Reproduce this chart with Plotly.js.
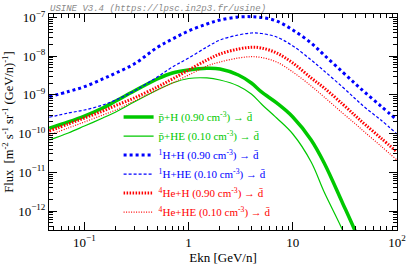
<!DOCTYPE html>
<html><head><meta charset="utf-8">
<script src="https://cdn.plot.ly/plotly-3.0.1.min.js"></script>
<style>html,body{margin:0;padding:0;background:#fff}#c{width:407px;height:265px}</style>
</head><body><div id="c"></div>
<script>
const ekn = [0.046,0.07,0.1,0.15,0.2,0.3,0.5,0.7,1,1.5,2,3,4,5,7,10,15,20,30,40,50,70,100];
const pbarH  = [1.37e-10,2.00e-10,2.85e-10,4.58e-10,6.95e-10,1.26e-9,2.58e-9,3.68e-9,4.40e-9,4.86e-9,4.67e-9,3.27e-9,2.03e-9,1.19e-9,6.18e-10,2.69e-10,6.84e-11,1.74e-11,1.62e-12,2.88e-13,6.46e-14];
const pbarHE = [6.84e-11,1.04e-10,1.57e-10,2.53e-10,3.61e-10,6.56e-10,1.34e-9,2.03e-9,2.65e-9,2.74e-9,2.43e-9,1.70e-9,1.05e-9,5.82e-10,2.53e-10,9.77e-11,1.85e-11,3.10e-12,3.23e-13,4.81e-14];
const pH     = [8.97e-10,1.22e-9,1.63e-9,2.58e-9,3.68e-9,6.29e-9,1.68e-8,2.78e-8,4.48e-8,6.80e-8,8.61e-8,1.03e-7,1.05e-7,1.00e-7,8.12e-8,4.76e-8,2.19e-8,1.07e-8,3.91e-9,1.91e-9,1.12e-9,5.16e-10,2.25e-10];
const pHE    = [2.64e-10,3.40e-10,4.07e-10,5.48e-10,7.38e-10,1.26e-9,2.90e-9,5.26e-9,8.98e-9,1.73e-8,2.62e-8,3.53e-8,3.97e-8,3.86e-8,3.13e-8,1.84e-8,7.98e-9,4.15e-9,1.60e-9,7.83e-10,4.58e-10,2.25e-10,9.77e-11];
const heH    = [1.17e-10,1.77e-10,2.53e-10,3.84e-10,5.32e-10,8.32e-10,1.60e-9,2.58e-9,4.40e-9,7.98e-9,1.14e-8,1.53e-8,1.70e-8,1.63e-8,1.21e-8,6.67e-9,2.74e-9,1.51e-9,5.82e-10,2.85e-10,1.67e-10,7.69e-11,3.35e-11];
const heHE   = [9.20e-11,1.40e-10,2.00e-10,3.03e-10,4.07e-10,6.95e-10,1.34e-9,2.03e-9,3.27e-9,5.58e-9,7.08e-9,8.98e-9,9.70e-9,9.25e-9,7.08e-9,3.91e-9,1.70e-9,8.83e-10,3.40e-10,1.77e-10,1.04e-10,4.79e-11,2.08e-11];
const xTickVals = [0.1,1,10,100];
const xTickText = ['10<sup>−1</sup>','1','10','10<sup>2</sup>'];
const yTickVals = [1e-12,1e-11,1e-10,1e-9,1e-8,1e-7];
const yTickText = ['10<sup>−12</sup>','10<sup>−11</sup>','10<sup>−10</sup>','10<sup>−9</sup>','10<sup>−8</sup>','10<sup>−7</sup>'];
const names = [
 'p̄+H (0.90 cm<sup>-3</sup>) → d̄',
 'p̄+HE (0.10 cm<sup>-3</sup>) → d̄',
 '<sup>1</sup>H+H (0.90 cm<sup>-3</sup>) → d̄',
 '<sup>1</sup>H+HE (0.10 cm<sup>-3</sup>) → d̄',
 '<sup>4</sup>He+H (0.90 cm<sup>-3</sup>) → d̄',
 '<sup>4</sup>He+HE (0.10 cm<sup>-3</sup>) → d̄'
];
const G='#00c800', B='#0000ff', R='#ff0000';
function minorVals(lo,hi){const v=[];for(let e=lo;e<hi;e++){for(let k=2;k<10;k++)v.push(k*Math.pow(10,e));}return v;}
function tr(y,name,color,width,dash){
  return {x:ekn.slice(0,y.length),y:y,type:'scatter',mode:'lines',line:{color:color,width:width,dash:dash,shape:'spline'},
    name:'<span style="color:'+color+'">'+name+'</span>'};
}
const data=[
 tr(pbarH,names[0],G,3.5,'solid'),
 tr(pbarHE,names[1],G,1.2,'solid'),
 tr(pH,names[2],B,3,'3px,3px'),
 tr(pHE,names[3],B,1.2,'3px,2px'),
 tr(heH,names[4],R,3,'1.5px,1.5px'),
 tr(heHE,names[5],R,1.2,'1px,1.5px')
];
const SERIF='Liberation Serif';
const layout={
 width:407,height:265,margin:{l:49,r:10,t:14,b:35},
 paper_bgcolor:'#fff',plot_bgcolor:'#fff',
 font:{family:SERIF,size:13,color:'#000'},
 showlegend:true,
 legend:{x:0.2,y:0.59,xanchor:'left',yanchor:'top',bgcolor:'rgba(0,0,0,0)',font:{family:SERIF,size:11},tracegroupgap:0,itemwidth:30},
 xaxis:{type:'log',range:[-1.34,2.0],tickvals:xTickVals,ticktext:xTickText,ticks:'inside',ticklen:8,tickcolor:'#000',
   showline:true,linecolor:'#000',linewidth:1,mirror:'allticks',showgrid:false,zeroline:false,
   tickfont:{family:SERIF,size:13},
   minor:{tickvals:minorVals(-2,2),ticks:'inside',ticklen:4,tickcolor:'#000',showgrid:false},
   title:{text:'Ekn [GeV/n]',font:{family:SERIF,size:13},standoff:4}},
 yaxis:{type:'log',range:[-12.49,-6.91],tickvals:yTickVals,ticktext:yTickText,ticks:'inside',ticklen:8,tickcolor:'#000',
   showline:true,linecolor:'#000',linewidth:1,mirror:'allticks',showgrid:false,zeroline:false,
   tickfont:{family:SERIF,size:13},
   minor:{tickvals:minorVals(-13,-6),ticks:'inside',ticklen:4,tickcolor:'#000',showgrid:false},
   title:{text:'Flux  [m<sup>-2</sup> s<sup>-1</sup> sr<sup>-1</sup> (GeV/n)<sup>-1</sup>]',font:{family:SERIF,size:12.5},standoff:2}},
 annotations:[{text:'USINE V3.4 (https://lpsc.in2p3.fr/usine)',xref:'paper',yref:'paper',x:0,y:1,xanchor:'left',yanchor:'bottom',
   showarrow:false,font:{family:'Liberation Mono',size:9,color:'#888',style:'italic'},xshift:-1,yshift:-2}]
};
Plotly.newPlot('c',data,layout,{staticPlot:true});
</script></body></html>
